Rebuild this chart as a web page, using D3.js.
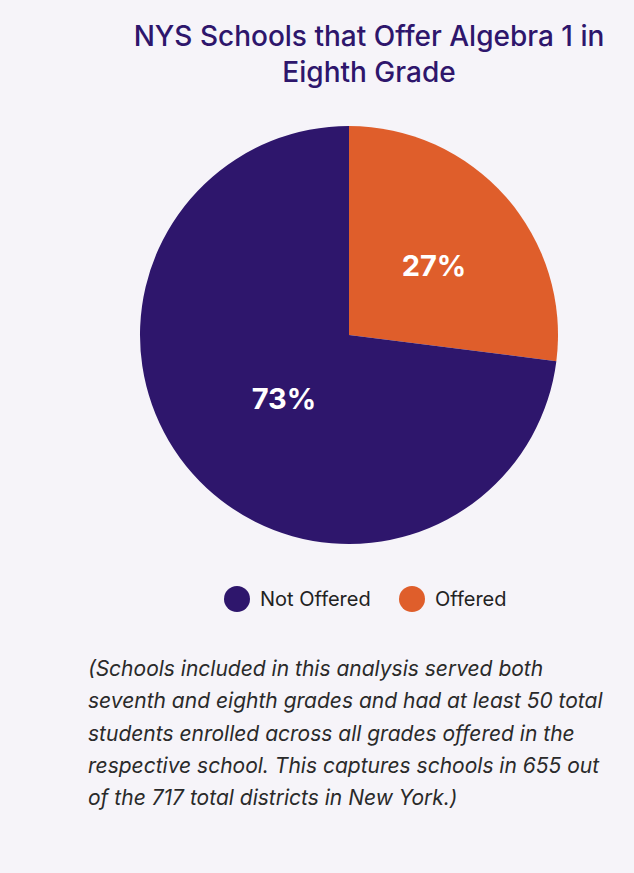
<!DOCTYPE html>
<html>
<head>
<meta charset="utf-8">
<script src="https://cdn.jsdelivr.net/npm/d3@7"></script>
<style>
  html, body { margin: 0; padding: 0; background: #f6f4f9; }
  svg { display: block; }
</style>
</head>
<body>
<div id="chart"></div>
<script>
// Share of NYS schools offering Algebra 1 in eighth grade
const categories = ["Offered", "Not Offered"];
const values = [27, 73];
const legendOrder = ["Not Offered", "Offered"];
const titleLines = ["NYS Schools that Offer Algebra 1 in", "Eighth Grade"];
const noteLines = [
  "(Schools included in this analysis served both",
  "seventh and eighth grades and had at least 50 total",
  "students enrolled across all grades offered in the",
  "respective school. This captures schools in 655 out",
  "of the 717 total districts in New York.)"
];

const W = 634, H = 873;
const cx = 349, cy = 335, R = 209;

const color = d3.scaleOrdinal()
  .domain(["Not Offered", "Offered"])
  .range(["#2e166c", "#df5e2b"]);

const svg = d3.select("#chart").append("svg")
  .attr("width", W).attr("height", H);

svg.append("rect").attr("width", W).attr("height", H).attr("fill", "#f6f4f9");

// Title
svg.append("g")
  .selectAll("text")
  .data(titleLines)
  .join("text")
  .attr("x", 369)
  .attr("y", (d, i) => 46 + i * 36)
  .attr("text-anchor", "middle")
  .attr("font-family", "Inter, sans-serif")
  .attr("font-size", 28)
  .attr("font-weight", 500)
  .attr("fill", "#2e166c")
  .text(d => d);

// Pie: first slice starts at 12 o'clock and runs clockwise
const data = categories.map((c, i) => ({ category: c, value: values[i] }));
const pie = d3.pie().value(d => d.value).sort(null);
const arcs = pie(data);
const arc = d3.arc().innerRadius(0).outerRadius(R);
const labelArc = d3.arc().innerRadius(100).outerRadius(100);

const g = svg.append("g").attr("transform", `translate(${cx},${cy})`);

g.selectAll("path")
  .data(arcs)
  .join("path")
  .attr("d", arc)
  .attr("fill", d => color(d.data.category));

g.selectAll("text")
  .data(arcs)
  .join("text")
  .attr("transform", d => {
    const [x, y] = labelArc.centroid(d);
    return `translate(${x + 10},${y - 3})`;
  })
  .attr("text-anchor", "middle")
  .attr("dy", "0.36em")
  .attr("font-family", "Inter, sans-serif")
  .attr("font-size", 29)
  .attr("font-weight", 700)
  .attr("fill", "#ffffff")
  .text(d => d.data.value + "%");

// Legend
const legendX = { "Not Offered": 237, "Offered": 412 };
const legend = svg.append("g")
  .selectAll("g")
  .data(legendOrder)
  .join("g")
  .attr("transform", d => `translate(${legendX[d]},599)`);

legend.append("circle")
  .attr("r", 13)
  .attr("fill", d => color(d));

legend.append("text")
  .attr("x", 23)
  .attr("y", 7)
  .attr("font-family", "Inter, sans-serif")
  .attr("font-size", 20)
  .attr("fill", "#222222")
  .text(d => d);

// Footnote
svg.append("g")
  .selectAll("text")
  .data(noteLines)
  .join("text")
  .attr("x", 88)
  .attr("y", (d, i) => 676 + i * 32.3)
  .attr("font-family", "Inter, sans-serif")
  .attr("font-size", 21)
  .attr("font-style", "italic")
  .attr("fill", "#2a2a2a")
  .text(d => d);
</script>
</body>
</html>
